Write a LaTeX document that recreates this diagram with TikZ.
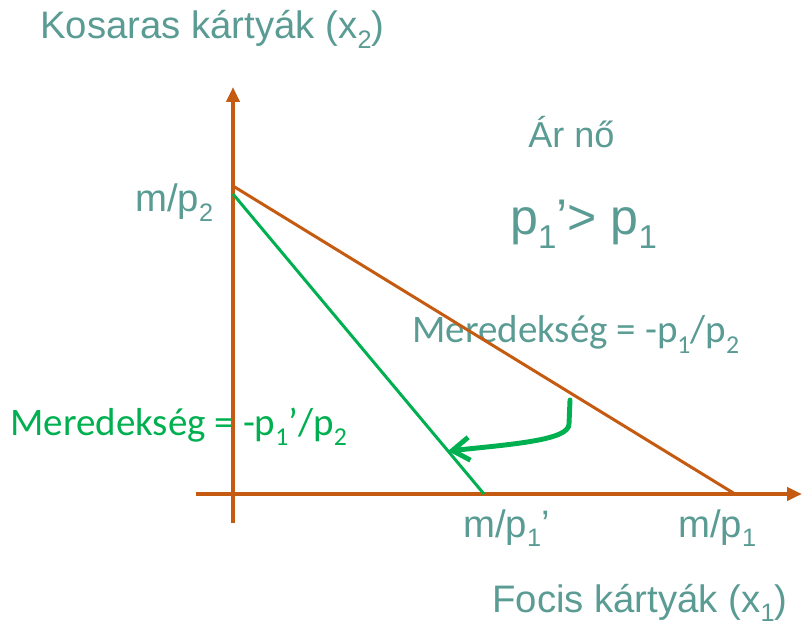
\documentclass[tikz,border=0pt]{standalone}
\usepackage{fontspec}
\setmainfont{Liberation Sans}
\newfontfamily\calibri{Carlito}
\usepackage{tikz}
\usetikzlibrary{arrows.meta}
\definecolor{axisorange}{RGB}{197,90,17}
\definecolor{labelteal}{RGB}{90,155,148}
\definecolor{slopegreen}{RGB}{0,176,80}
\newcommand{\lowsub}[1]{\raisebox{-0.26em}{\scalebox{0.66}{#1}}}

\begin{document}
\begin{tikzpicture}[
        every node/.style={inner sep=0pt, anchor=base west, text=labelteal},
        axisline/.style={axisorange, line width=2.3pt, -{Triangle[length=0.3cm, width=0.26cm]}},
        budget/.style={line width=1.7pt},
        axislabel/.style={font=\fontsize{21.8}{24}\selectfont},
        slopetext/.style={font=\calibri\fontsize{22.2}{25}\selectfont}
      ]
        \useasboundingbox (0,0) rectangle (16.08,12.58);
        % labels first, the lines run over them
        \node[axislabel] (ytitle) at (0.80,11.80) {Kosaras kártyák (x\lowsub{2})};
        \node[font=\fontsize{20.5}{23}\selectfont] (rise) at (10.56,9.62) {Ár nő};
        \node[font=\fontsize{28.5}{31}\selectfont] (cond) at (10.20,7.88) {p\lowsub{1}’> p\lowsub{1}};
        \node[axislabel] (yint) at (2.70,8.34) {m/p\lowsub{2}};
        \node[slopetext] (oldslope) at (8.24,5.72) {Meredekség = -p\lowsub{1}/p\lowsub{2}};
        \node[slopetext, text=slopegreen] (newslope) at (0.20,3.88) {Meredekség = -p\lowsub{1}’/p\lowsub{2}};
        \node[axislabel] (newint) at (9.26,1.84) {m/p\lowsub{1}’};
        \node[axislabel] (oldint) at (13.56,1.84) {m/p\lowsub{1}};
        \node[axislabel] (xtitle) at (9.84,0.34) {Focis kártyák (x\lowsub{1})};
        % axes
        \coordinate (ybot) at (4.66,2.12);
        \coordinate (ytop) at (4.66,10.84);
        \coordinate (xleft) at (3.92,2.70);
        \coordinate (xright) at (16.04,2.70);
        \draw[axisline] (ybot) -- (ytop);
        \draw[axisline] (xleft) -- (xright);
        % budget lines
        \coordinate (oldy) at (4.66,8.86);
        \coordinate (oldx) at (14.70,2.70);
        \coordinate (newy) at (4.66,8.70);
        \coordinate (newx) at (9.68,2.70);
        \draw[budget, axisorange] (oldy) -- (oldx);
        \draw[budget, slopegreen] (newy) -- (newx);
        % turning arrow
        \coordinate (turnfrom) at (11.40,4.58);
        \coordinate (turnto) at (8.96,3.56);
        \draw[slopegreen, line width=2.8pt, line cap=round,
              -{Straight Barb[length=0.34cm, width=0.46cm]}]
          (turnfrom) -- (11.38,4.10) .. controls (11.38,3.78) and (10.3,3.70) .. (turnto);
      \end{tikzpicture}
\end{document}
